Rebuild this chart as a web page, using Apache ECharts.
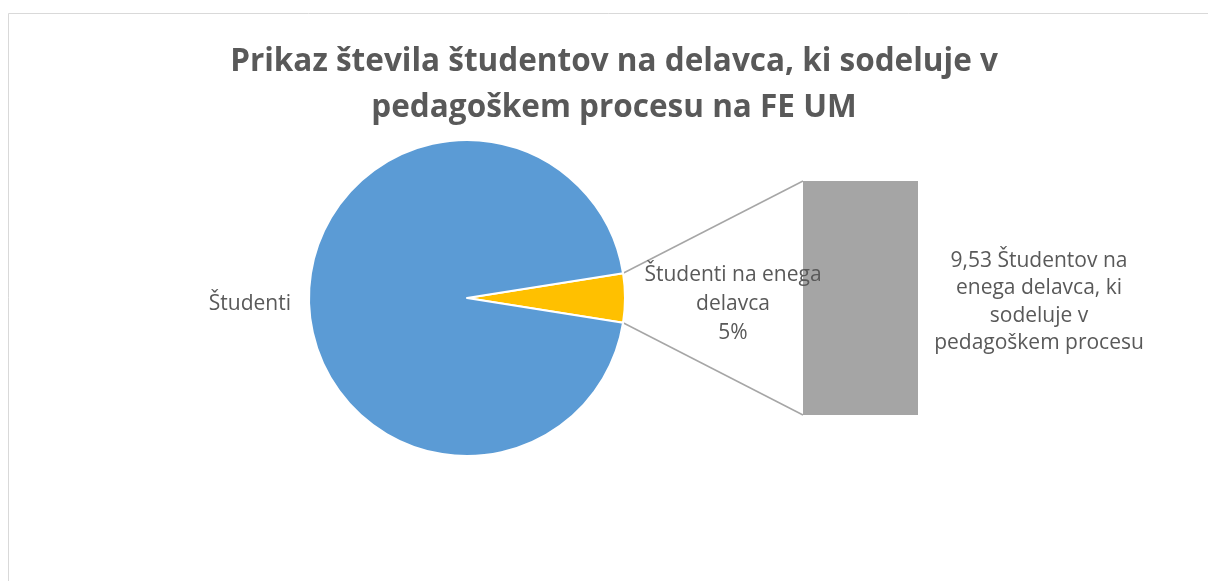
<!DOCTYPE html>
<html>
<head>
<meta charset="utf-8">
<script src="https://cdn.jsdelivr.net/npm/echarts@6/dist/echarts.min.js"></script>
<style>html,body{margin:0;padding:0;background:#fff}#c{width:1208px;height:581px}</style>
</head>
<body>
<div id="c"></div>
<script>
var titleLines = ['Prikaz števila študentov na delavca, ki sodeluje v', 'pedagoškem procesu na FE UM'];
var pieNames = ['Študenti na enega delavca', 'Študenti'];
var pieValues = [9.53, 181.0];
var pieLabelLines = [['Študenti na enega', 'delavca'], ['Študenti']];
var barCategories = ['Študentov na enega delavca, ki sodeluje v pedagoškem procesu'];
var barValues = [9.53];
var barLabelLines = ['Študentov na', 'enega delavca, ki', 'sodeluje v', 'pedagoškem procesu'];

var FONT = '"Open Sans", "Liberation Sans", sans-serif';
var TXT = '#595959';
var FS = 21;
var chart = echarts.init(document.getElementById('c'), null, {renderer: 'canvas'});

var cx = 467, cy = 298, R = 158;
var otherShare = pieValues[0] / (pieValues[0] + pieValues[1]);
var halfAngle = otherShare * 180;

var option = {
  animation: false,
  backgroundColor: '#fff',
  title: {
    text: titleLines.join('\n'),
    left: 609, top: 34, textAlign: 'center',
    textStyle: {fontFamily: FONT, fontWeight: 'bold', fontSize: 31.5, lineHeight: 46, color: TXT}
  },
  grid: {left: 803, top: 181, width: 115, height: 234, containLabel: false},
  xAxis: {type: 'category', data: barCategories, show: false},
  yAxis: {type: 'value', min: 0, max: barValues[0], show: false},
  series: [
    {
      type: 'pie',
      center: [cx, cy],
      radius: R,
      startAngle: halfAngle,
      clockwise: true,
      itemStyle: {borderColor: '#fff', borderWidth: 2},
      labelLayout: {dy: 3},
      data: [
        {name: pieNames[0], value: pieValues[0], itemStyle: {color: '#FFC000'},
          label: {show: true, position: 'outside', fontFamily: FONT, fontSize: FS, color: TXT,
            formatter: function (p) {
              var ls = pieLabelLines[0].concat([Math.round(p.percent) + '%']);
              return ls.map(function (s) { return '{a|' + s + '}'; }).join('\n');
            },
            rich: {a: {width: 184, align: 'center', fontFamily: FONT, fontSize: FS, lineHeight: 29, color: TXT}}
          },
          labelLine: {show: false, length: 11, length2: 0}
        },
        {name: pieNames[1], value: pieValues[1], itemStyle: {color: '#5B9BD5'},
          label: {show: true, position: 'outside', fontFamily: FONT, fontSize: FS, color: TXT,
            formatter: function (p) { return pieLabelLines[1].join('\n'); }},
          labelLine: {show: false, length: 13, length2: 0}
        }
      ]
    },
    {
      type: 'bar',
      barWidth: '100%',
      itemStyle: {color: '#A5A5A5'},
      data: barValues,
      label: {
        show: true, position: 'right', distance: 11, offset: [0, 4],
        formatter: function (p) {
          var ls = barLabelLines.slice();
          ls[0] = p.value.toFixed(2).replace('.', ',') + ' ' + ls[0];
          return ls.map(function (s) { return '{a|' + s + '}'; }).join('\n');
        },
        rich: {a: {width: 220, align: 'center', fontFamily: FONT, fontSize: FS, lineHeight: 27.5, color: TXT}}
      }
    }
  ]
};
chart.setOption(option);

// connector lines from the "other" slice edges to the bar corners
var rad = halfAngle * Math.PI / 180;
var pTop = [cx + R * Math.cos(rad), cy - R * Math.sin(rad)];
var pBot = [cx + R * Math.cos(rad), cy + R * Math.sin(rad)];
var barTopLeft = chart.convertToPixel({gridIndex: 0}, [0, barValues[0]]);
var barBotLeft = chart.convertToPixel({gridIndex: 0}, [0, 0]);
var barHalfW = 115 / 2;
chart.setOption({
  graphic: [
    {type: 'rect', silent: true, z: -1, shape: {x: 8.5, y: 13.5, width: 1400, height: 800},
      style: {fill: null, stroke: '#D9D9D9', lineWidth: 1}},
    {type: 'line', silent: true, shape: {x1: pTop[0], y1: pTop[1], x2: barTopLeft[0] - barHalfW, y2: barTopLeft[1]},
      style: {stroke: '#A6A6A6', lineWidth: 1.5}},
    {type: 'line', silent: true, shape: {x1: pBot[0], y1: pBot[1], x2: barBotLeft[0] - barHalfW, y2: barBotLeft[1]},
      style: {stroke: '#A6A6A6', lineWidth: 1.5}}
  ]
});
</script>
</body>
</html>
